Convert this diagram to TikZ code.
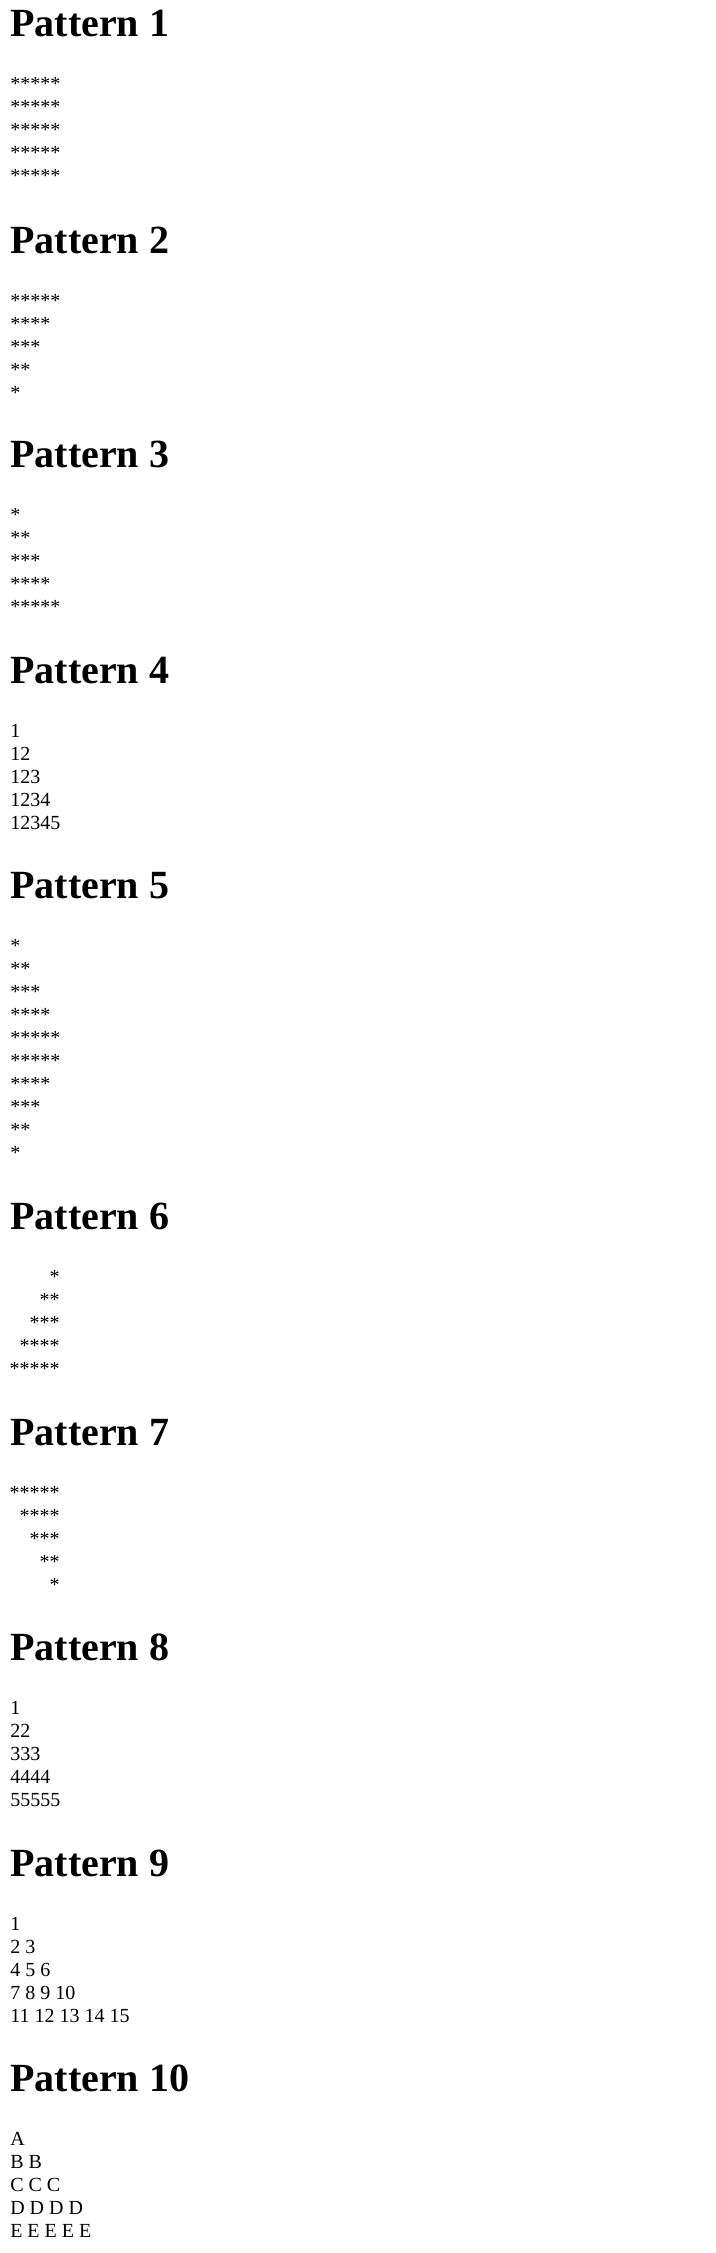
\documentclass[tikz,border=0pt]{standalone}
\usepackage{fontspec}
\setmainfont{Liberation Serif}

\begin{document}
\begin{tikzpicture}[x=0.75pt, y=-0.75pt,
  heading/.style={anchor=base west, inner sep=0pt, font=\fontsize{30}{36}\selectfont\bfseries},
  row/.style={anchor=base west, inner sep=0pt, font=\fontsize{15}{17.25}\selectfont},
  rrow/.style={row, anchor=base east}]
  \useasboundingbox (0,0) rectangle (716,2253);

  % Pattern 1
  \node[heading] (h1) at (10,36) {Pattern 1};
  \foreach \txt [count=\i] in {*****,*****,*****,*****,*****}
    \node[row] (p1r\i) at (10,67+23*\i) {\txt};

  % Pattern 2
  \node[heading] (h2) at (10,253) {Pattern 2};
  \foreach \txt [count=\i] in {*****,****,***,**,*}
    \node[row] (p2r\i) at (10,284+23*\i) {\txt};

  % Pattern 3
  \node[heading] (h3) at (10,467) {Pattern 3};
  \foreach \txt [count=\i] in {*,**,***,****,*****}
    \node[row] (p3r\i) at (10,498+23*\i) {\txt};

  % Pattern 4
  \node[heading] (h4) at (10,683) {Pattern 4};
  \foreach \txt [count=\i] in {1,12,123,1234,12345}
    \node[row] (p4r\i) at (10,714+23*\i) {\txt};

  % Pattern 5
  \node[heading] (h5) at (10,898) {Pattern 5};
  \foreach \txt [count=\i] in {*,**,***,****,*****,*****,****,***,**,*}
    \node[row] (p5r\i) at (10,929+23*\i) {\txt};

  % Pattern 6 (right aligned)
  \node[heading] (h6) at (10,1229) {Pattern 6};
  \foreach \txt [count=\i] in {*,**,***,****,*****}
    \node[rrow] (p6r\i) at (60,1260+23*\i) {\txt};

  % Pattern 7 (right aligned)
  \node[heading] (h7) at (10,1445) {Pattern 7};
  \foreach \txt [count=\i] in {*****,****,***,**,*}
    \node[rrow] (p7r\i) at (60,1476+23*\i) {\txt};

  % Pattern 8
  \node[heading] (h8) at (10,1660) {Pattern 8};
  \foreach \txt [count=\i] in {1,22,333,4444,55555}
    \node[row] (p8r\i) at (10,1691+23*\i) {\txt};

  % Pattern 9
  \node[heading] (h9) at (10,1876) {Pattern 9};
  \foreach \txt [count=\i] in {1,2 3,4 5 6,7 8 9 10,11 12 13 14 15}
    \node[row] (p9r\i) at (10,1907+23*\i) {\txt};

  % Pattern 10
  \node[heading] (h10) at (10,2091) {Pattern 10};
  \foreach \txt [count=\i] in {A,B B,C C C,D D D D,E E E E E}
    \node[row] (p10r\i) at (10,2122+23*\i) {\txt};
\end{tikzpicture}
\end{document}
